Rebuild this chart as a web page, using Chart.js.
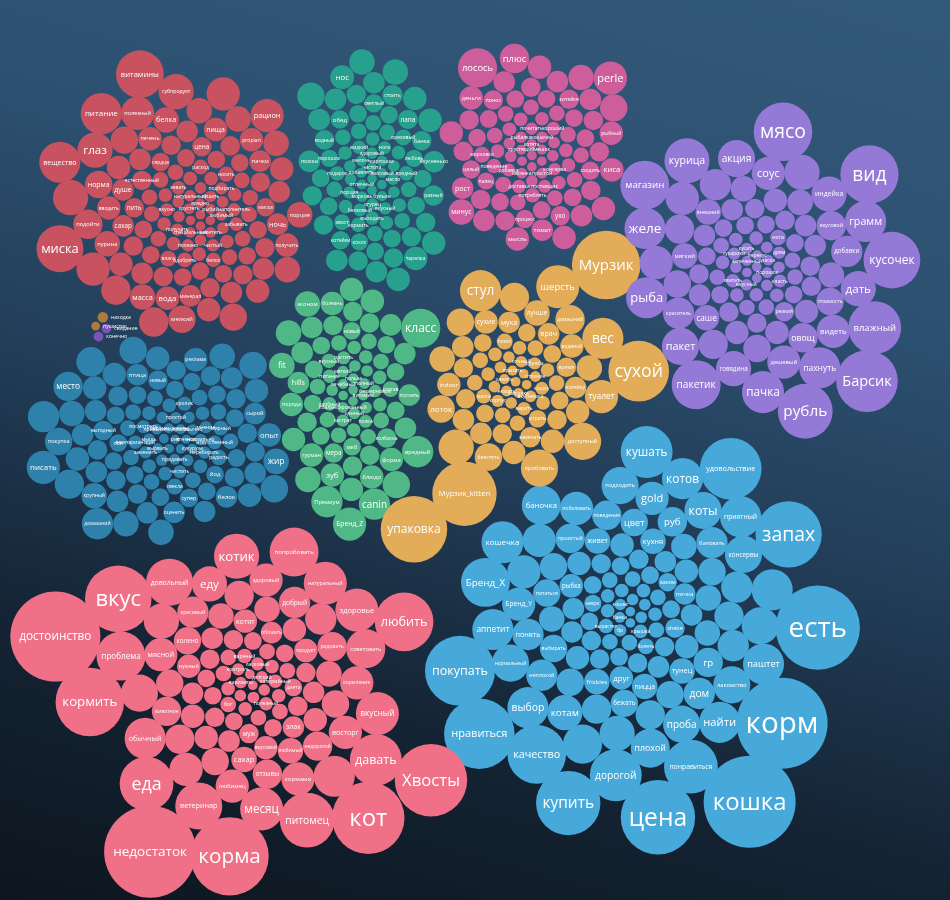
<!DOCTYPE html>
<html lang="ru">
<head>
<meta charset="utf-8">
<title>Кластеры слов</title>
<script src="https://cdn.jsdelivr.net/npm/chart.js@4.4.1/dist/chart.umd.min.js"></script>
<style>
  html, body { margin: 0; padding: 0; }
  body {
    width: 950px; height: 900px; overflow: hidden;
    background: linear-gradient(195deg, #33597a 0%, #2c5070 30%, #223d58 52%, #142333 76%, #0d161f 100%);
  }
  #chart { display: block; }
</style>
</head>
<body>
<canvas id="chart" width="950" height="900"></canvas>
<script>
(function(){
  // ---- data: words and their weights per cluster ----
  const redWords = ['витамины','миска','питание','вещество','глаз','субпродукт','полезный','рацион','подойти','мелкий',
    'норма','пурина','порция','масса','белка','пища','вода','propian','печень','получить',
    'вводить','ночь','сахар','пачки','минерал','душе','пить','цена','миска','естественный',
    'сердце','влага','носить','одобрять','расход','белок','зевать','забывать','вкусно','получать',
    'чистый','полезно','подбирать','наполнитель','кушать','любимый','натуральный','хрустеть','заметить','специальный',
    'рыбий','вредно'];
  const redValues = [270,261,200,200,147,147,131,131,102,89,
    89,77,77,77,77,65,65,65,65,65,
    65,55,55,55,55,55,45,45,40,45,
    40,30,28,26,26,24,22,22,20,18,
    18,18,18,20,16,16,16,14,14,14,
    12,12];
  const redBlank = [147,131,131,102,102,89,89,77,77,77,77,65,65,65,65,65,55,55,55,55,55,55,45,45,45,45,45,45,45,45,
    37,37,37,37,37,37,37,37,37,37,29,29,29,29,29,29,29,29,29,29,22,22,22,22,22,22,22,22,16,16,16,16,16,16,11,11,11,11];

  const tealWords = ['нос','тарелка','вкусненько','ложка','стоить','разный','водный','лапа','банка','обед',
    'светлый','котейки','любовь','порошок','кокос','хвост','ореховый','вредный','подарок','кормить',
    'жидкий','выходить','белковый','нога','вкусный','порция','огурец','здоровый','масло','морковь',
    'картошка','мелочь','ласковый','чистота','отличный','добавлять','бульон'];
  const tealValues = [67,65,55,55,50,50,45,45,45,40,
    40,40,35,35,35,30,30,25,25,25,
    22,22,20,20,18,18,16,16,16,14,
    14,14,12,12,12,12,12];
  const tealBlank = [89,77,77,65,65,65,65,55,55,55,55,55,45,45,45,45,45,45,45,37,37,37,37,37,37,37,37,
    29,29,29,29,29,29,29,29,22,22,22,22,22,22,16,16,16,16,11,11,11];

  const magWords = ['лосось','perle','плюс','минус','киса','рыбный','деньги','мысль','томат','рост',
    'ухо','котейке','понос','сходить','процесс','палец','целый','морковка','потреблять','поведение',
    'доставка','хороший','добавка','поставщик','почитать','консерва','кошачий','рыбалка','простой','овсянка',
    'мешок','котята','хрустящий'];
  const magValues = [181,131,102,77,65,65,65,65,55,55,
    45,45,45,40,40,35,40,30,25,25,
    22,22,20,20,18,18,16,16,14,14,
    12,12,12];
  const magBlank = [89,77,65,65,65,65,55,55,55,55,55,45,45,45,45,45,45,45,45,37,37,37,37,37,37,37,37,37,
    29,29,29,29,29,29,29,29,29,29,22,22,22,22,22,22,22,16,16,16,16,16,11,11,11,11];

  const purWords = ['Барсик','мясо','вид','кусочек','рубль','влажный','пакетик','магазин','курица','пачка',
    'рыба','грамм','желе','пахнуть','акция','пакет','индейка','дать','говядина','соус',
    'дешевый','видеть','краситель','добавки','овощ','вкусовой','стоимость','саше','мягкий','внешний',
    'резкий','нога','хватать','класть','сухарики','дрем','вкусный','кусать','порошок','ласка',
    'запеченный','перекус'];
  const purValues = [450,407,400,380,355,330,283,283,240,209,
    200,200,200,200,163,163,147,147,147,131,
    131,131,116,116,102,102,89,77,77,77,
    45,29,22,20,18,18,16,16,14,14,
    12,12];
  const purBlank = [147,131,131,116,102,102,89,89,77,77,77,65,65,65,65,55,55,55,55,55,
    45,45,45,45,45,45,45,37,37,37,37,37,37,37,
    29,29,29,29,29,29,22,22,22,22,22,22,16,16,16,16,11,11,11];

  const yelWords = ['Мурзик','упаковка','Мурзик_kitten','сухой','шерсть','вес','стул','доступный','пробовать','туалет',
    'домашний','лоток','блестеть','лучше','водяной','indoor','сухие','врач','мука','котейку',
    'замечать','время','играть','поиск','маска','варить','кошку','корпус','дружба','сочный',
    'вкусняшка','нюхать','отличие','мисочка','прыгать','ценить'];
  const yelValues = [555,523,490,435,219,200,200,163,163,131,
    102,89,89,77,65,65,65,55,55,55,
    50,45,37,30,25,22,20,18,18,16,
    16,14,14,12,12,12];
  const yelBlank = [147,102,89,77,77,65,65,65,55,55,55,45,45,45,45,37,37,37,37,37,
    29,29,29,29,29,29,22,22,22,22,22,16,16,16,16,11,11,11];

  const grnWords = ['класс','Бренд_Z','canin','Премиум','вредный','fit','эконом','гурман','форма','зуб',
    'блюдо','болезнь','порода','hills','послать','колбаска','мера','мкб','новый','состав',
    'вкусный','питание','удобный','растить','полка','беззерновой','кастрат','ценный','мягкий','полный',
    'сбалансированный','лечебный','польза','витамин'];
  const grnValues = [181,131,116,116,116,77,77,65,65,65,
    65,65,65,55,55,45,45,37,37,30,
    25,22,22,20,20,18,18,16,16,14,
    14,12,12,12];
  const grnBlank = [89,77,77,65,65,65,65,55,55,55,55,55,45,45,45,45,45,45,37,37,37,37,37,37,37,
    29,29,29,29,29,29,29,29,22,22,22,22,22,16,16,16,16,11,11,11];

  const dbWords = ['писать','домашний','место','покупка','жир','крупный','опыт','реклама','птица','белок',
    'сырой','оценить','новый','выгодный','супер','соя','йод','свекла','радость','жирный',
    'кролик','искусственный','вегетарианский','посмотреть','чистить','перебирать','заменить','мнение','простой','нормально',
    'мышь','обычно','привыкать','продавать','просто','рекомендовать','кукуруза','вырвать','рис','ягненок'];
  const dbValues = [131,116,102,89,77,77,65,65,55,55,
    55,55,45,45,40,37,37,30,28,26,
    24,22,22,20,20,18,18,18,16,16,
    16,14,14,14,12,12,12,12,10,10];
  const dbBlank = [116,102,102,89,89,89,77,77,77,77,65,65,65,65,65,65,55,55,55,55,55,55,55,55,
    45,45,45,45,45,45,45,45,45,45,37,37,37,37,37,37,37,37,37,37,37,
    29,29,29,29,29,29,29,29,29,22,22,22,22,22,22,16,16,16,16,11,11,11];

  const corWords = ['недостаток','достоинство','корма','кот','Хвосты','кормить','вкус','любить','питомец','еда',
    'давать','проблема','попробовать','довольный','ветеринар','котик','месяц','натуральный','вкусный','здоровье',
    'обычный','советовать','еду','мясной','любимец','восторг','кормление','кормами','здоровый','добрый',
    'красивый','радовать','недорогой','животное','отзывы','колено','сахар','любимый','продукт','вкусовой',
    'котят','нужный','обожать','злак','муж','диета','бог','вареный','полезный','калорийный',
    'ласковый','контроль','варианты','детский'];
  const corValues = [1000,958,724,620,620,555,523,407,355,342,
    318,283,283,261,261,240,219,219,219,219,
    200,181,147,131,131,131,131,131,131,116,
    116,102,102,102,102,89,77,77,65,65,
    65,65,55,55,45,37,29,25,22,22,
    20,18,16,16];
  const corBlank = [200,163,147,131,116,102,102,89,89,89,77,77,77,65,65,65,65,55,55,55,55,
    45,45,45,45,45,37,37,37,37,37,37,29,29,29,29,29,29,22,22,22,22,16,16,16,11,11];

  const lbWords = ['кошка','корм','есть','цена','нравиться','покупать','запах','купить','удовольствие','качество',
    'понравиться','кушать','дорогой','Бренд_X','кошечка','котов','выбор','найти','аппетит','паштет',
    'приятный','плохой','баночка','проба','подходить','коты','лакомство','консервы','нормальный','котам',
    'gold','Бренд_Y','побаловать','дом','понять','баловать','гр','пушистый','поведение','неплохой',
    'выбирать','цвет','питаться','бежать','руб','кухня','пицца','живет','frisbies','тунец',
    'друг','рыбка','почка','shebe','зажим','мерк','болеть','вырастет','крышка','бр',
    'кошек','банка'];
  const lbValues = [1000,980,840,654,587,580,520,490,450,407,
    342,318,318,283,209,200,200,200,200,200,
    200,181,181,163,163,163,163,163,163,147,
    131,131,131,116,116,116,102,102,102,116,
    89,89,89,89,102,77,77,77,77,77,
    65,65,55,45,40,35,30,25,22,18,
    16,14];
  const lbBlank = [200,181,163,147,131,131,116,116,102,102,102,89,89,89,89,77,77,77,77,
    65,65,65,65,65,55,55,55,55,55,45,45,45,45,45,45,37,37,37,37,37,37,
    29,29,29,29,29,29,22,22,22,22,22,16,16,16,11,11];

  const miniWords = ['конечно','свидание','пушистик','находка'];
  const miniValues = [11,11,9,13];
  const miniColors = ['#7b55b3','#7b55b3','#b07b3a','#b07b3a'];

  // ---- layout ----
  const R_MAX = 46, V_MAX = 1000, GAP = 1.5;
  function radiusOf(v){ return R_MAX * Math.sqrt(v / V_MAX); }
  const toRad = d => d * Math.PI / 180;
  function angDiff(a, b){ let d = a - b; while(d > Math.PI) d -= 2*Math.PI; while(d < -Math.PI) d += 2*Math.PI; return Math.abs(d); }

  // every cluster grows at once, smallest words first; each bubble takes the free spot
  // nearest to its cluster centre (an ellipse), preferring its own territory
  function layoutAll(clusters){
    const CELL = 40, MAXR = radiusOf(V_MAX) + GAP;
    const grid = new Map();
    const gkey = (ix, iy) => ix * 100003 + iy;
    function addGrid(p){
      const k = gkey(Math.floor(p.x / CELL), Math.floor(p.y / CELL));
      let a = grid.get(k); if(!a){ a = []; grid.set(k, a); } a.push(p);
    }
    function near(x, y, R, fn){
      const ix0 = Math.floor((x - R) / CELL), ix1 = Math.floor((x + R) / CELL);
      const iy0 = Math.floor((y - R) / CELL), iy1 = Math.floor((y + R) / CELL);
      for(let ix = ix0; ix <= ix1; ix++){
        for(let iy = iy0; iy <= iy1; iy++){
          const a = grid.get(gkey(ix, iy));
          if(a) for(const p of a) if(fn(p) === false) return false;
        }
      }
      return true;
    }
    function fits(x, y, r){
      return near(x, y, r + MAXR, p => {
        const dx = p.x - x, dy = p.y - y, rr = p.r + r - 1e-6;
        return !(dx*dx + dy*dy < rr*rr);
      });
    }
    const ell = (cl, x, y) => {
      const ux = (x - cl.cx) / ((cl.w || 60) / 2), uy = (y - cl.cy) / ((cl.h || 60) / 2);
      return ux*ux + uy*uy;
    };
    const big = clusters.filter(cl => !cl.side);

    const items = [];
    clusters.forEach((cl, k) => {
      cl.members = [];
      cl.values.forEach((v, i) => items.push({v, k, label: cl.words[i] || '', color: cl.colors ? cl.colors[i] : null,
        anchor: cl.anchors && cl.anchors[i] !== undefined ? toRad(cl.anchors[i]) : null}));
      cl.blank.forEach(v => items.push({v, k, label: '', color: null, anchor: null}));
    });
    items.forEach(it => { it.r = radiusOf(it.v) + GAP; });
    items.sort((a, b) => a.v - b.v || a.k - b.k);

    items.forEach(c => {
      const cl = clusters[c.k], m = cl.members;
      const metric = (x, y) => {
        let d = ell(cl, x, y);
        if(!cl.side){
          for(const o of big){ if(o !== cl && ell(o, x, y) < d){ d += 3; break; } }
        }
        if(c.anchor !== null) d += 1.0 * angDiff(Math.atan2(y - cl.cy, x - cl.cx), c.anchor) / Math.PI;
        return d;
      };
      const cands = [];
      if(!m.length){
        cands.push([cl.cx, cl.cy, 0]);
      }else if(m.length === 1){
        for(let a = 0; a < 360; a += 15){
          const x = m[0].x + (m[0].r + c.r) * Math.cos(toRad(a)), y = m[0].y + (m[0].r + c.r) * Math.sin(toRad(a));
          cands.push([x, y, metric(x, y)]);
        }
      }else{
        for(const a of m){
          const ra = a.r + c.r;
          near(a.x, a.y, ra + c.r + MAXR, b => {
            if(b === a) return;
            const rb = b.r + c.r;
            const dx = b.x - a.x, dy = b.y - a.y, d = Math.sqrt(dx*dx + dy*dy);
            if(d > ra + rb || d < Math.abs(ra - rb) || d === 0) return;
            const t = (d*d + ra*ra - rb*rb) / (2*d);
            const h = Math.sqrt(Math.max(0, ra*ra - t*t));
            const mx = a.x + t*dx/d, my = a.y + t*dy/d;
            const x1 = mx - h*dy/d, y1 = my + h*dx/d, x2 = mx + h*dy/d, y2 = my - h*dx/d;
            cands.push([x1, y1, metric(x1, y1)], [x2, y2, metric(x2, y2)]);
          });
        }
      }
      cands.sort((p, q) => p[2] - q[2]);
      let spot = null;
      for(const p of cands){ if(fits(p[0], p[1], c.r)){ spot = p; break; } }
      if(!spot){
        for(let s = 1; s < 400 && !spot; s++){
          const ang = s * 0.5, rad = s * 1.5;
          const x = cl.cx + rad * Math.cos(ang), y = cl.cy + rad * Math.sin(ang);
          if(fits(x, y, c.r)) spot = [x, y];
        }
        if(!spot) spot = [cl.cx, cl.cy];
      }
      c.x = spot[0]; c.y = spot[1];
      m.push(c); addGrid(c);
    });

    return clusters.map(cl => cl.members.map(it => ({x: it.x, y: it.y, r: it.r - GAP, label: it.label, color: it.color})));
  }

  const clusters = [
    {name: 'c1', color: '#c8525f', words: redWords, values: redValues, blank: redBlank, cx: 171, cy: 188, w: 262, h: 265, anchors: [-105, 56, -131, -155]},
    {name: 'c2', color: '#27a08e', words: tealWords, values: tealValues, blank: tealBlank, cx: 361, cy: 148, w: 150, h: 215, anchors: [-138, 84]},
    {name: 'c3', color: '#cd5e9b', words: magWords, values: magValues, blank: magBlank, cx: 538, cy: 122, w: 203, h: 210, anchors: [140, -43, -85]},
    {name: 'c4', color: '#9479d6', words: purWords, values: purValues, blank: purBlank, cx: 787, cy: 246, w: 325, h: 328, anchors: [27, -59, -2, 31, 101, 45, 79, -126]},
    {name: 'c5', color: '#e2ac58', words: yelWords, values: yelValues, blank: yelBlank, cx: 520, cy: 374, w: 285, h: 285, anchors: [-116, 97, 115, -18]},
    {name: 'c6', color: '#4fb886', words: grnWords, values: grnValues, blank: grnBlank, cx: 340, cy: 383, w: 165, h: 245, anchors: [-80, 88, -104, 117, 52]},
    {name: 'c7', color: '#2e81ab', words: dbWords, values: dbValues, blank: dbBlank, cx: 143, cy: 438, w: 263, h: 225, anchors: [-163, 115, -147, 169]},
    {name: 'c8', color: '#ef7087', words: corWords, values: corValues, blank: corBlank, cx: 229, cy: 712, w: 422, h: 422, anchors: [86, -153, 127, 39, -46, 180, -73, -25]},
    {name: 'c9', color: '#47a9da', words: lbWords, values: lbValues, blank: lbBlank, cx: 647, cy: 630, w: 445, h: 470, anchors: [53, 131, -79, 87, -165, 165, -55, 108]},
    {name: 'c10', words: miniWords, values: miniValues, blank: [], cx: 55, cy: 312, colors: miniColors, side: true}
  ];

  const packed = layoutAll(clusters);

  const datasets = clusters.map((cl, k) => ({
    label: cl.name,
    data: packed[k],
    backgroundColor: cl.colors ? packed[k].map(p => p.color) : cl.color,
    borderWidth: 0,
    hoverBorderWidth: 0,
    hoverRadius: 0,
    labelSide: !!cl.side
  }));

  const labelPlugin = {
    id: 'bubbleLabels',
    afterDatasetsDraw(chart){
      const ctx = chart.ctx;
      ctx.save();
      ctx.textBaseline = 'middle';
      ctx.fillStyle = '#ffffff';
      chart.data.datasets.forEach((ds, di) => {
        const meta = chart.getDatasetMeta(di);
        meta.data.forEach((el, i) => {
          const p = ds.data[i];
          if(!p.label) return;
          ctx.font = '10px "Open Sans"';
          const w10 = ctx.measureText(p.label).width;
          let fs = Math.min(p.r * 0.66, 10 * p.r * 1.6 / w10);
          fs = Math.max(fs, 5);
          ctx.font = fs.toFixed(1) + 'px "Open Sans"';
          if(ds.labelSide){
            ctx.textAlign = 'left';
            ctx.fillText(p.label, el.x + p.r + 3, el.y);
          }else{
            ctx.textAlign = 'center';
            ctx.fillText(p.label, el.x, el.y + fs * 0.05);
          }
        });
      });
      ctx.restore();
    }
  };

  new Chart(document.getElementById('chart'), {
    type: 'bubble',
    data: { datasets },
    options: {
      responsive: false,
      animation: false,
      events: [],
      layout: { padding: 0 },
      clip: false,
      scales: {
        x: { type: 'linear', min: 0, max: 950, display: false },
        y: { type: 'linear', min: 0, max: 900, reverse: true, display: false }
      },
      plugins: {
        legend: { display: false },
        tooltip: { enabled: false }
      }
    },
    plugins: [labelPlugin]
  });
})();
</script>
</body>
</html>
